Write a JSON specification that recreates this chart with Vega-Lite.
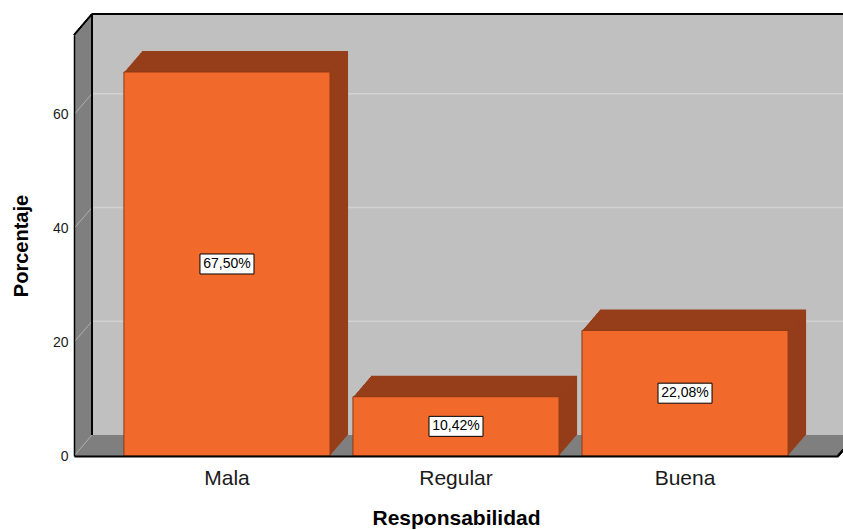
{
  "$schema": "https://vega.github.io/schema/vega-lite/v6.json",
  "width": 764,
  "height": 421,
  "autosize": {"type": "none"},
  "padding": {"left": 74, "top": 35, "right": 5, "bottom": 74},
  "background": "white",
  "config": {"view": {"stroke": null}, "font": "Liberation Sans"},
  "data": {"values": [
    {"cat": "Mala", "pct": 67.5, "label": "67,50%"},
    {"cat": "Regular", "pct": 10.42, "label": "10,42%"},
    {"cat": "Buena", "pct": 22.08, "label": "22,08%"}
  ]},
  "layer": [
    {"mark": {"type": "rect", "fill": "#7f7f7f", "xOffset": 0, "x2Offset": 0, "yOffset": 0, "y2Offset": 0}, "encoding": {"x": {"value": 0}, "x2": {"value": "width"}, "y": {"datum": 0, "type": "quantitative", "scale": {"domain": [0, 74], "nice": false}}, "y2": {"datum": 74}}},
    {"mark": {"type": "rect", "fill": "#7f7f7f", "xOffset": 1, "x2Offset": 1, "yOffset": -1.1667, "y2Offset": -1.1667}, "encoding": {"x": {"value": 0}, "x2": {"value": "width"}, "y": {"datum": 0, "type": "quantitative"}, "y2": {"datum": 74}}},
    {"mark": {"type": "rect", "fill": "#7f7f7f", "xOffset": 2, "x2Offset": 2, "yOffset": -2.3333, "y2Offset": -2.3333}, "encoding": {"x": {"value": 0}, "x2": {"value": "width"}, "y": {"datum": 0, "type": "quantitative"}, "y2": {"datum": 74}}},
    {"mark": {"type": "rect", "fill": "#7f7f7f", "xOffset": 3, "x2Offset": 3, "yOffset": -3.5, "y2Offset": -3.5}, "encoding": {"x": {"value": 0}, "x2": {"value": "width"}, "y": {"datum": 0, "type": "quantitative"}, "y2": {"datum": 74}}},
    {"mark": {"type": "rect", "fill": "#7f7f7f", "xOffset": 4, "x2Offset": 4, "yOffset": -4.6667, "y2Offset": -4.6667}, "encoding": {"x": {"value": 0}, "x2": {"value": "width"}, "y": {"datum": 0, "type": "quantitative"}, "y2": {"datum": 74}}},
    {"mark": {"type": "rect", "fill": "#7f7f7f", "xOffset": 5, "x2Offset": 5, "yOffset": -5.8333, "y2Offset": -5.8333}, "encoding": {"x": {"value": 0}, "x2": {"value": "width"}, "y": {"datum": 0, "type": "quantitative"}, "y2": {"datum": 74}}},
    {"mark": {"type": "rect", "fill": "#7f7f7f", "xOffset": 6, "x2Offset": 6, "yOffset": -7, "y2Offset": -7}, "encoding": {"x": {"value": 0}, "x2": {"value": "width"}, "y": {"datum": 0, "type": "quantitative"}, "y2": {"datum": 74}}},
    {"mark": {"type": "rect", "fill": "#7f7f7f", "xOffset": 7, "x2Offset": 7, "yOffset": -8.1667, "y2Offset": -8.1667}, "encoding": {"x": {"value": 0}, "x2": {"value": "width"}, "y": {"datum": 0, "type": "quantitative"}, "y2": {"datum": 74}}},
    {"mark": {"type": "rect", "fill": "#7f7f7f", "xOffset": 8, "x2Offset": 8, "yOffset": -9.3333, "y2Offset": -9.3333}, "encoding": {"x": {"value": 0}, "x2": {"value": "width"}, "y": {"datum": 0, "type": "quantitative"}, "y2": {"datum": 74}}},
    {"mark": {"type": "rect", "fill": "#7f7f7f", "xOffset": 9, "x2Offset": 9, "yOffset": -10.5, "y2Offset": -10.5}, "encoding": {"x": {"value": 0}, "x2": {"value": "width"}, "y": {"datum": 0, "type": "quantitative"}, "y2": {"datum": 74}}},
    {"mark": {"type": "rect", "fill": "#7f7f7f", "xOffset": 10, "x2Offset": 10, "yOffset": -11.6667, "y2Offset": -11.6667}, "encoding": {"x": {"value": 0}, "x2": {"value": "width"}, "y": {"datum": 0, "type": "quantitative"}, "y2": {"datum": 74}}},
    {"mark": {"type": "rect", "fill": "#7f7f7f", "xOffset": 11, "x2Offset": 11, "yOffset": -12.8333, "y2Offset": -12.8333}, "encoding": {"x": {"value": 0}, "x2": {"value": "width"}, "y": {"datum": 0, "type": "quantitative"}, "y2": {"datum": 74}}},
    {"mark": {"type": "rect", "fill": "#7f7f7f", "xOffset": 12, "x2Offset": 12, "yOffset": -14, "y2Offset": -14}, "encoding": {"x": {"value": 0}, "x2": {"value": "width"}, "y": {"datum": 0, "type": "quantitative"}, "y2": {"datum": 74}}},
    {"mark": {"type": "rect", "fill": "#7f7f7f", "xOffset": 13, "x2Offset": 13, "yOffset": -15.1667, "y2Offset": -15.1667}, "encoding": {"x": {"value": 0}, "x2": {"value": "width"}, "y": {"datum": 0, "type": "quantitative"}, "y2": {"datum": 74}}},
    {"mark": {"type": "rect", "fill": "#7f7f7f", "xOffset": 14, "x2Offset": 14, "yOffset": -16.3333, "y2Offset": -16.3333}, "encoding": {"x": {"value": 0}, "x2": {"value": "width"}, "y": {"datum": 0, "type": "quantitative"}, "y2": {"datum": 74}}},
    {"mark": {"type": "rect", "fill": "#7f7f7f", "xOffset": 15, "x2Offset": 15, "yOffset": -17.5, "y2Offset": -17.5}, "encoding": {"x": {"value": 0}, "x2": {"value": "width"}, "y": {"datum": 0, "type": "quantitative"}, "y2": {"datum": 74}}},
    {"mark": {"type": "rect", "fill": "#7f7f7f", "xOffset": 16, "x2Offset": 16, "yOffset": -18.6667, "y2Offset": -18.6667}, "encoding": {"x": {"value": 0}, "x2": {"value": "width"}, "y": {"datum": 0, "type": "quantitative"}, "y2": {"datum": 74}}},
    {"mark": {"type": "rect", "fill": "#7f7f7f", "xOffset": 17, "x2Offset": 17, "yOffset": -19.8333, "y2Offset": -19.8333}, "encoding": {"x": {"value": 0}, "x2": {"value": "width"}, "y": {"datum": 0, "type": "quantitative"}, "y2": {"datum": 74}}},
    {"mark": {"type": "rect", "fill": "#7f7f7f", "xOffset": 18, "x2Offset": 18, "yOffset": -21, "y2Offset": -21}, "encoding": {"x": {"value": 0}, "x2": {"value": "width"}, "y": {"datum": 0, "type": "quantitative"}, "y2": {"datum": 74}}},
    {"mark": {"type": "rect", "fill": "#c0c0c0", "xOffset": 18, "x2Offset": 18, "yOffset": -21, "y2Offset": -21}, "encoding": {"x": {"value": 0}, "x2": {"value": "width"}, "y": {"datum": 0, "type": "quantitative"}, "y2": {"datum": 74}}},
    {"data": {"values": [{"v": 20}, {"v": 40}, {"v": 60}]}, "mark": {"type": "rule", "color": "#d2d2d2", "strokeWidth": 1.5, "xOffset": 18, "x2Offset": 18, "yOffset": -21, "y2Offset": -21}, "encoding": {"x": {"value": 0}, "x2": {"value": "width"}, "y": {"field": "v", "type": "quantitative"}}},
    {"data": {"values": [{"v": 0}, {"v": 20}, {"v": 40}, {"v": 60}]}, "mark": {"type": "rule", "color": "#b0b0b0", "strokeWidth": 1, "x2Offset": 18, "y2Offset": -21}, "encoding": {"x": {"value": 0}, "x2": {"value": 0}, "y": {"field": "v", "type": "quantitative"}, "y2": {"field": "v"}}},
    {"mark": {"type": "rule", "color": "black", "strokeWidth": 2, "xOffset": 18, "x2Offset": 18, "yOffset": -21, "y2Offset": -21}, "encoding": {"x": {"value": 0}, "x2": {"value": "width"}, "y": {"datum": 74, "type": "quantitative"}}},
    {"mark": {"type": "rule", "color": "black", "strokeWidth": 1.5, "xOffset": 18, "x2Offset": 18, "yOffset": -21, "y2Offset": -21}, "encoding": {"x": {"value": 0}, "y": {"datum": 0, "type": "quantitative"}, "y2": {"datum": 74}}},
    {"mark": {"type": "rule", "color": "black", "strokeWidth": 1.5, "x2Offset": 18, "y2Offset": -21}, "encoding": {"x": {"value": 0}, "x2": {"value": 0}, "y": {"datum": 74, "type": "quantitative"}, "y2": {"datum": 74}}},
    {"mark": {"type": "rule", "color": "black", "strokeWidth": 2, "x2Offset": 18, "y2Offset": -21}, "encoding": {"x": {"value": "width"}, "x2": {"value": "width"}, "y": {"datum": 0, "type": "quantitative"}, "y2": {"datum": 0}}},
    {"mark": {"type": "bar", "fill": "#963e1a", "xOffset": 18, "x2Offset": 18, "yOffset": -21, "y2Offset": -21}, "encoding": {"x": {"field": "cat", "type": "nominal", "sort": ["Mala", "Regular", "Buena"]}, "y": {"field": "pct", "type": "quantitative"}}},
    {"mark": {"type": "bar", "fill": "#963e1a", "xOffset": 17, "x2Offset": 17, "yOffset": -19.8333, "y2Offset": -19.8333}, "encoding": {"x": {"field": "cat", "type": "nominal", "sort": ["Mala", "Regular", "Buena"]}, "y": {"field": "pct", "type": "quantitative"}}},
    {"mark": {"type": "bar", "fill": "#963e1a", "xOffset": 16, "x2Offset": 16, "yOffset": -18.6667, "y2Offset": -18.6667}, "encoding": {"x": {"field": "cat", "type": "nominal", "sort": ["Mala", "Regular", "Buena"]}, "y": {"field": "pct", "type": "quantitative"}}},
    {"mark": {"type": "bar", "fill": "#963e1a", "xOffset": 15, "x2Offset": 15, "yOffset": -17.5, "y2Offset": -17.5}, "encoding": {"x": {"field": "cat", "type": "nominal", "sort": ["Mala", "Regular", "Buena"]}, "y": {"field": "pct", "type": "quantitative"}}},
    {"mark": {"type": "bar", "fill": "#963e1a", "xOffset": 14, "x2Offset": 14, "yOffset": -16.3333, "y2Offset": -16.3333}, "encoding": {"x": {"field": "cat", "type": "nominal", "sort": ["Mala", "Regular", "Buena"]}, "y": {"field": "pct", "type": "quantitative"}}},
    {"mark": {"type": "bar", "fill": "#963e1a", "xOffset": 13, "x2Offset": 13, "yOffset": -15.1667, "y2Offset": -15.1667}, "encoding": {"x": {"field": "cat", "type": "nominal", "sort": ["Mala", "Regular", "Buena"]}, "y": {"field": "pct", "type": "quantitative"}}},
    {"mark": {"type": "bar", "fill": "#963e1a", "xOffset": 12, "x2Offset": 12, "yOffset": -14, "y2Offset": -14}, "encoding": {"x": {"field": "cat", "type": "nominal", "sort": ["Mala", "Regular", "Buena"]}, "y": {"field": "pct", "type": "quantitative"}}},
    {"mark": {"type": "bar", "fill": "#963e1a", "xOffset": 11, "x2Offset": 11, "yOffset": -12.8333, "y2Offset": -12.8333}, "encoding": {"x": {"field": "cat", "type": "nominal", "sort": ["Mala", "Regular", "Buena"]}, "y": {"field": "pct", "type": "quantitative"}}},
    {"mark": {"type": "bar", "fill": "#963e1a", "xOffset": 10, "x2Offset": 10, "yOffset": -11.6667, "y2Offset": -11.6667}, "encoding": {"x": {"field": "cat", "type": "nominal", "sort": ["Mala", "Regular", "Buena"]}, "y": {"field": "pct", "type": "quantitative"}}},
    {"mark": {"type": "bar", "fill": "#963e1a", "xOffset": 9, "x2Offset": 9, "yOffset": -10.5, "y2Offset": -10.5}, "encoding": {"x": {"field": "cat", "type": "nominal", "sort": ["Mala", "Regular", "Buena"]}, "y": {"field": "pct", "type": "quantitative"}}},
    {"mark": {"type": "bar", "fill": "#963e1a", "xOffset": 8, "x2Offset": 8, "yOffset": -9.3333, "y2Offset": -9.3333}, "encoding": {"x": {"field": "cat", "type": "nominal", "sort": ["Mala", "Regular", "Buena"]}, "y": {"field": "pct", "type": "quantitative"}}},
    {"mark": {"type": "bar", "fill": "#963e1a", "xOffset": 7, "x2Offset": 7, "yOffset": -8.1667, "y2Offset": -8.1667}, "encoding": {"x": {"field": "cat", "type": "nominal", "sort": ["Mala", "Regular", "Buena"]}, "y": {"field": "pct", "type": "quantitative"}}},
    {"mark": {"type": "bar", "fill": "#963e1a", "xOffset": 6, "x2Offset": 6, "yOffset": -7, "y2Offset": -7}, "encoding": {"x": {"field": "cat", "type": "nominal", "sort": ["Mala", "Regular", "Buena"]}, "y": {"field": "pct", "type": "quantitative"}}},
    {"mark": {"type": "bar", "fill": "#963e1a", "xOffset": 5, "x2Offset": 5, "yOffset": -5.8333, "y2Offset": -5.8333}, "encoding": {"x": {"field": "cat", "type": "nominal", "sort": ["Mala", "Regular", "Buena"]}, "y": {"field": "pct", "type": "quantitative"}}},
    {"mark": {"type": "bar", "fill": "#963e1a", "xOffset": 4, "x2Offset": 4, "yOffset": -4.6667, "y2Offset": -4.6667}, "encoding": {"x": {"field": "cat", "type": "nominal", "sort": ["Mala", "Regular", "Buena"]}, "y": {"field": "pct", "type": "quantitative"}}},
    {"mark": {"type": "bar", "fill": "#963e1a", "xOffset": 3, "x2Offset": 3, "yOffset": -3.5, "y2Offset": -3.5}, "encoding": {"x": {"field": "cat", "type": "nominal", "sort": ["Mala", "Regular", "Buena"]}, "y": {"field": "pct", "type": "quantitative"}}},
    {"mark": {"type": "bar", "fill": "#963e1a", "xOffset": 2, "x2Offset": 2, "yOffset": -2.3333, "y2Offset": -2.3333}, "encoding": {"x": {"field": "cat", "type": "nominal", "sort": ["Mala", "Regular", "Buena"]}, "y": {"field": "pct", "type": "quantitative"}}},
    {"mark": {"type": "bar", "fill": "#963e1a", "xOffset": 1, "x2Offset": 1, "yOffset": -1.1667, "y2Offset": -1.1667}, "encoding": {"x": {"field": "cat", "type": "nominal", "sort": ["Mala", "Regular", "Buena"]}, "y": {"field": "pct", "type": "quantitative"}}},
    {"mark": {"type": "bar", "fill": "#f26a2b", "stroke": "#8a3a16", "strokeWidth": 1}, "encoding": {
      "x": {"field": "cat", "type": "nominal", "sort": ["Mala", "Regular", "Buena"], "scale": {"paddingInner": 0.1, "paddingOuter": 0.218},
        "axis": {"title": "Responsabilidad", "labelAngle": 0, "labelAlign": "center", "labelBaseline": "top", "ticks": false, "domainColor": "black", "domainWidth": 2, "labelFontSize": 21, "labelColor": "#1a1a1a", "labelPadding": 11, "titleFontSize": 21, "titleFontWeight": "bold", "titleColor": "black", "titlePadding": 19, "zindex": 1}},
      "y": {"field": "pct", "type": "quantitative", "scale": {"domain": [0, 74], "nice": false},
        "axis": {"title": "Porcentaje", "values": [0, 20, 40, 60], "grid": false, "ticks": false, "domainColor": "black", "domainWidth": 1.5, "labelFontSize": 14, "labelColor": "#1a1a1a", "labelPadding": 6, "titleFontSize": 20, "titleFontWeight": "bold", "titleColor": "black", "titlePadding": 21, "zindex": 1}}
    }},
    {"transform": [{"calculate": "datum.pct / 2", "as": "mid"}], "mark": {"type": "point", "shape": "M-1,-0.37L1,-0.37L1,0.37L-1,0.37Z", "size": 2916, "filled": true, "fill": "white", "stroke": "black", "strokeWidth": 1, "opacity": 1}, "encoding": {"x": {"field": "cat", "type": "nominal", "sort": ["Mala", "Regular", "Buena"]}, "y": {"field": "mid", "type": "quantitative"}}},
    {"transform": [{"calculate": "datum.pct / 2", "as": "mid"}], "mark": {"type": "text", "fontSize": 14, "color": "black", "align": "center", "baseline": "middle"}, "encoding": {"x": {"field": "cat", "type": "nominal", "sort": ["Mala", "Regular", "Buena"]}, "y": {"field": "mid", "type": "quantitative"}, "text": {"field": "label"}}}
  ]
}
